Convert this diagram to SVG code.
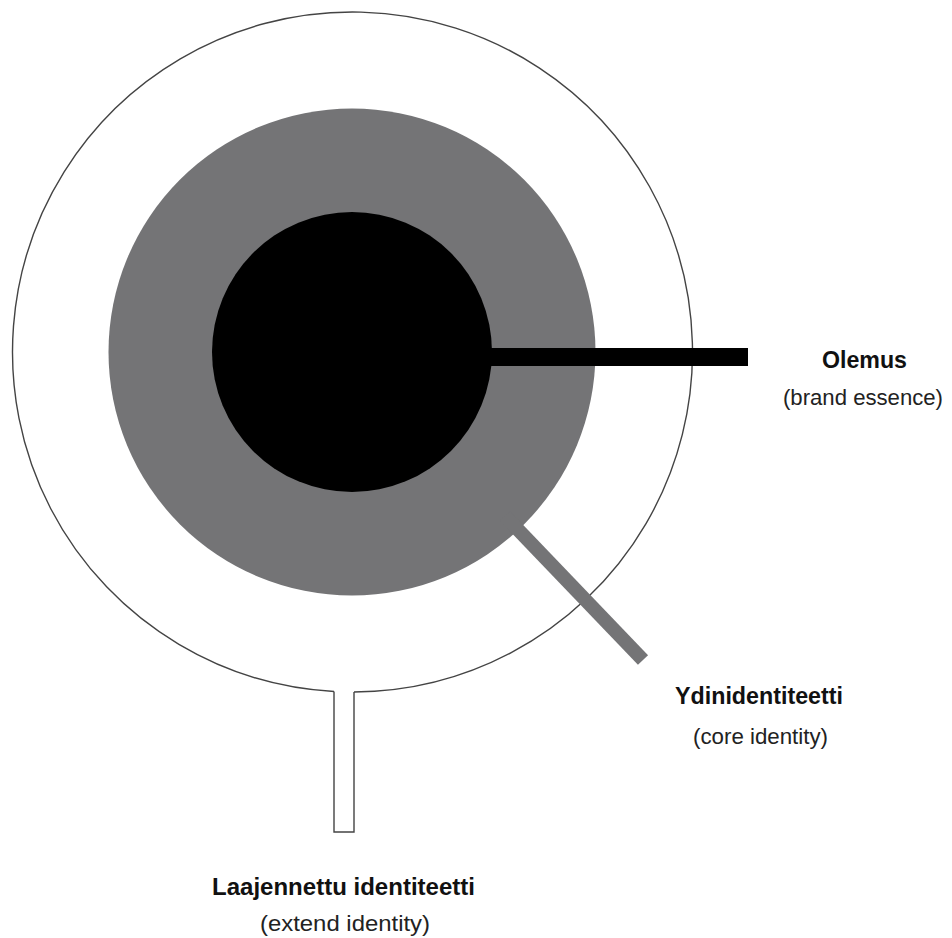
<svg xmlns="http://www.w3.org/2000/svg" width="952" height="938" viewBox="0 0 952 938">
<style>
.title{font-family:"Liberation Sans",Arial,sans-serif;font-weight:bold;font-size:24px;fill:#111}
.sub{font-family:"Liberation Sans",Arial,sans-serif;font-size:22px;fill:#222}
.outline{fill:none;stroke:#444;stroke-width:1.4}
</style>
<rect width="952" height="938" fill="#fff"/>
<g id="extended">
<path class="outline" d="M334,691.5 A340,340 0 1 1 354,692"/>
<path d="M334,691.5 V832 H354 V692" fill="#fff" stroke="#444" stroke-width="1.4"/>
</g>
<g id="core">
<circle cx="352" cy="352" r="243.5" fill="#747476"/>
</g>
<g id="connectors">
<line x1="505" y1="516" x2="643" y2="660" stroke="#747476" stroke-width="14"/>
<rect x="480" y="348" width="268" height="18" fill="#000"/>
</g>
<g id="essence">
<circle cx="352" cy="352" r="140" fill="#000"/>
</g>
<g id="label-olemus">
<text class="title" x="822" y="368" textLength="85" lengthAdjust="spacingAndGlyphs">Olemus</text>
<text class="sub" x="783" y="405" textLength="160" lengthAdjust="spacingAndGlyphs">(brand essence)</text>
</g>
<g id="label-ydin">
<text class="title" x="675" y="704" textLength="168" lengthAdjust="spacingAndGlyphs">Ydinidentiteetti</text>
<text class="sub" x="693" y="744" textLength="135" lengthAdjust="spacingAndGlyphs">(core identity)</text>
</g>
<g id="label-laaj">
<text class="title" x="212" y="895" textLength="263" lengthAdjust="spacingAndGlyphs">Laajennettu identiteetti</text>
<text class="sub" x="260" y="931" textLength="170" lengthAdjust="spacingAndGlyphs">(extend identity)</text>
</g>
</svg>
